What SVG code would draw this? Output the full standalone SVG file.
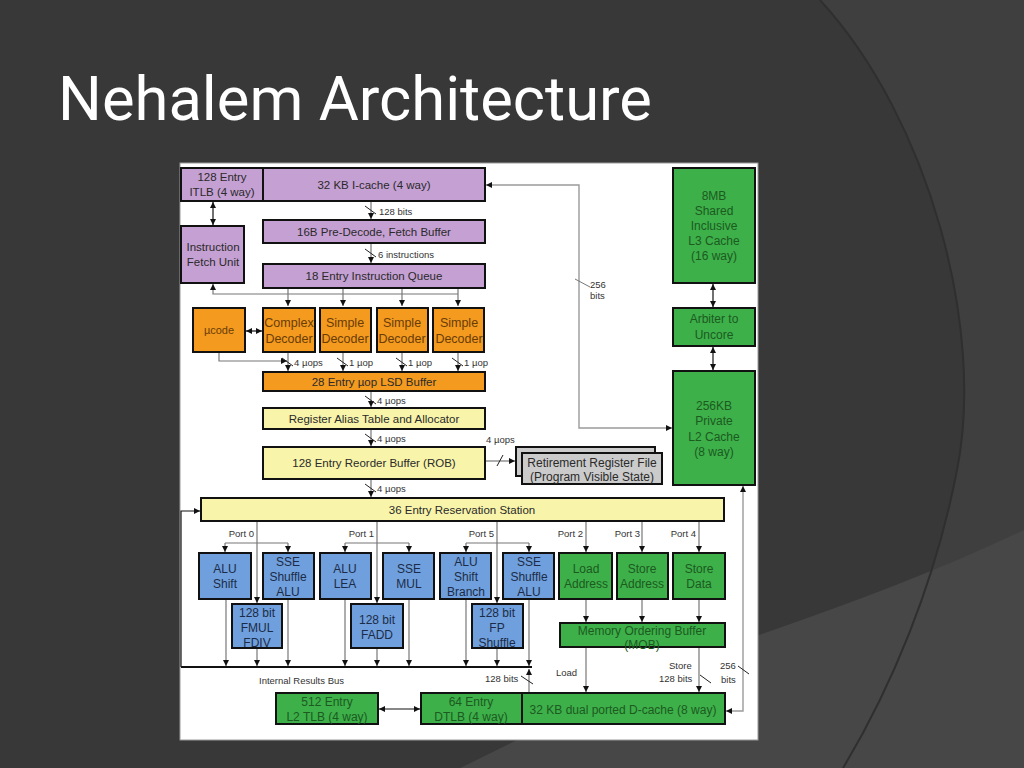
<svg xmlns="http://www.w3.org/2000/svg" width="1024" height="768" viewBox="0 0 1024 768">
<defs>
<marker id="a" markerWidth="6" markerHeight="6" refX="6" refY="3" orient="auto-start-reverse" markerUnits="userSpaceOnUse">
<path d="M0,0 L6,3 L0,6 Z" fill="#111"/>
</marker>
<style>
text{font-family:"Liberation Sans",Arial,sans-serif;text-anchor:middle}
.box{stroke:#111;stroke-width:2}
.pu{fill:#c5a0d3}
.or{fill:#f39a1f}
.ye{fill:#f8f4aa}
.bl{fill:#6f9fdc}
.gr{fill:#3db04a}
.gy{fill:#cbcbcb}
.t{font-size:11.5px;fill:#2a2a2a}
.tb{font-size:12px;fill:#1c2c48}
.tg{font-size:12px;fill:#1c5a20}
.to{font-size:12.5px;fill:#6a3c08}
.s{font-size:9.5px;fill:#333}
.sl{font-size:9.5px;fill:#333;text-anchor:start}
.se{font-size:9.5px;fill:#333;text-anchor:end}
.c{fill:none;stroke:#777;stroke-width:1.2}
.k{fill:none;stroke:#111;stroke-width:1.2}
.g{fill:none;stroke:#9a9a9a;stroke-width:1.4}
.m{marker-end:url(#a)}
.mm{marker-start:url(#a);marker-end:url(#a)}
</style>
</defs>
<rect width="1024" height="768" fill="#383838"/>
<path d="M820,0 C930,120 985,330 957,470 C935,585 890,690 843,768 L1024,768 L1024,0 Z" fill="#3f3f3f"/>
<path d="M1024,530 C930,575 820,615 700,655 C620,685 540,730 460,768 L1024,768 Z" fill="#474747"/>
<path d="M820,0 C930,120 985,330 957,470 C935,585 890,690 843,768" fill="none" stroke="#2f2f2f" stroke-width="2"/>
<text x="58" y="120" style="font-family:Roboto,'Liberation Sans',sans-serif;font-size:62px;fill:#ffffff;text-anchor:start" textLength="594" lengthAdjust="spacingAndGlyphs">Nehalem Architecture</text>
<rect x="180" y="163" width="578" height="577" fill="#ffffff" stroke="#999" stroke-width="1"/>

<g id="connectors">
<path class="g mm" d="M672,428 L579,428 L579,185 L486,185"/>
<line x1="575" y1="279" x2="590" y2="287" stroke="#777" stroke-width="1"/>
<path class="k mm" d="M213,202 L213,225"/>
<path class="c m" d="M371,201 L371,219"/>
<path class="c m" d="M371,243 L371,263"/>
<path class="c m" d="M458,294 L213,294 L213,284"/>
<path class="c m" d="M288,289 L288,306"/>
<path class="c m" d="M343,289 L343,306"/>
<path class="c m" d="M402,289 L402,306"/>
<path class="c m" d="M458,289 L458,306"/>
<path class="k mm" d="M246,331 L262,331"/>
<path class="c m" d="M219,352 L219,361 L287,361"/>
<path class="c m" d="M288,352 L288,371"/>
<path class="c m" d="M343,352 L343,371"/>
<path class="c m" d="M402,352 L402,371"/>
<path class="c m" d="M458,352 L458,371"/>
<path class="c m" d="M371,391 L371,407"/>
<path class="c m" d="M371,429 L371,446"/>
<path class="c m" d="M485,461 L515,461"/>
<path class="c m" d="M371,479 L371,497"/>
<path class="k m" d="M181,667 L181,511 L200,511"/>
<line x1="181" y1="667" x2="532" y2="667" stroke="#111" stroke-width="2"/>
<path class="c m" d="M257,521 L257,603"/>
<path class="c" d="M225,543 L288,543"/>
<path class="c m" d="M225,543 L225,552"/>
<path class="c m" d="M288,543 L288,552"/>
<path class="c m" d="M377,521 L377,603"/>
<path class="c" d="M345,543 L409,543"/>
<path class="c m" d="M345,543 L345,552"/>
<path class="c m" d="M409,543 L409,552"/>
<path class="c m" d="M497,521 L497,603"/>
<path class="c" d="M466,543 L529,543"/>
<path class="c m" d="M466,543 L466,552"/>
<path class="c m" d="M529,543 L529,552"/>
<path class="c m" d="M586,521 L586,552"/>
<path class="c m" d="M642,521 L642,552"/>
<path class="c m" d="M699,521 L699,552"/>
<path class="c m" d="M226,599 L226,666"/>
<path class="c m" d="M257,648 L257,666"/>
<path class="c m" d="M288,599 L288,666"/>
<path class="c m" d="M345,599 L345,666"/>
<path class="c m" d="M377,648 L377,666"/>
<path class="c m" d="M409,599 L409,666"/>
<path class="c m" d="M466,599 L466,666"/>
<path class="c m" d="M497,648 L497,666"/>
<path class="c m" d="M529,599 L529,666"/>
<path class="c m" d="M586,599 L586,622"/>
<path class="c m" d="M642,599 L642,622"/>
<path class="c m" d="M699,599 L699,622"/>
<path class="c m" d="M586,647 L586,692"/>
<path class="c m" d="M699,647 L699,692"/>
<path class="c m" d="M529,693 L529,669"/>
<path class="k mm" d="M379,709 L420,709"/>
<path class="g mm" d="M726,711 L743,711 L743,486"/>
<path class="k mm" d="M713,284 L713,307"/>
<path class="k mm" d="M713,347 L713,370"/>
<g stroke="#222" stroke-width="1">
<line x1="365" y1="206" x2="376" y2="214"/>
<line x1="365" y1="249" x2="376" y2="257"/>
<line x1="282" y1="358" x2="293" y2="366"/>
<line x1="337" y1="358" x2="348" y2="366"/>
<line x1="396" y1="358" x2="407" y2="366"/>
<line x1="452" y1="358" x2="463" y2="366"/>
<line x1="365" y1="396" x2="376" y2="404"/>
<line x1="365" y1="434" x2="376" y2="442"/>
<line x1="365" y1="484" x2="376" y2="492"/>
<line x1="497" y1="466" x2="503" y2="455"/>
<line x1="521" y1="676" x2="533" y2="684"/>
<line x1="700" y1="675" x2="711" y2="683"/>
<line x1="738" y1="666" x2="749" y2="674"/>
</g>
<text class="sl" x="379" y="215">128 bits</text>
<text class="sl" x="378" y="258">6 instructions</text>
<text class="sl" x="590" y="288">256</text>
<text class="sl" x="590" y="299">bits</text>
<text class="sl" x="294" y="366">4 µops</text>
<text class="sl" x="349" y="366">1 µop</text>
<text class="sl" x="408" y="366">1 µop</text>
<text class="sl" x="464" y="366">1 µop</text>
<text class="sl" x="377" y="404">4 µops</text>
<text class="sl" x="377" y="442">4 µops</text>
<text class="sl" x="486" y="443">4 µops</text>
<text class="sl" x="377" y="492">4 µops</text>
<text class="se" x="254" y="537">Port 0</text>
<text class="se" x="374" y="537">Port 1</text>
<text class="se" x="494" y="537">Port 5</text>
<text class="se" x="583" y="537">Port 2</text>
<text class="se" x="640" y="537">Port 3</text>
<text class="se" x="696" y="537">Port 4</text>
<text class="sl" x="259" y="684">Internal Results Bus</text>
<text class="sl" x="485" y="682">128 bits</text>
<text class="sl" x="556" y="676">Load</text>
<text class="sl" x="669" y="669">Store</text>
<text class="sl" x="659" y="682">128 bits</text>
<text class="sl" x="720" y="669">256</text>
<text class="sl" x="721" y="683">bits</text>
</g>

<g id="itlb"><rect class="box pu" x="181" y="168" width="82" height="33"/><text class="t" x="222" y="181">128 Entry</text><text class="t" x="222" y="196">ITLB (4 way)</text></g>
<g id="icache"><rect class="box pu" x="263" y="168" width="222" height="33"/><text class="t" x="374" y="189">32 KB I-cache (4 way)</text></g>
<g id="predecode"><rect class="box pu" x="263" y="220" width="222" height="23"/><text class="t" x="374" y="236">16B Pre-Decode, Fetch Buffer</text></g>
<g id="iqueue"><rect class="box pu" x="263" y="264" width="222" height="24"/><text class="t" x="374" y="280">18 Entry Instruction Queue</text></g>
<g id="ifu"><rect class="box pu" x="181" y="226" width="63" height="57"/><text class="t" x="213" y="251">Instruction</text><text class="t" x="213" y="266">Fetch Unit</text></g>
<g id="ucode"><rect class="box or" x="193" y="308" width="52" height="44"/><text class="to" x="219" y="334" style="font-size:11px">µcode</text></g>
<g id="complexdec"><rect class="box or" x="263" y="308" width="52" height="44"/><text class="to" x="289" y="327">Complex</text><text class="to" x="289" y="343">Decoder</text></g>
<g id="simpledec1"><rect class="box or" x="320" y="308" width="51" height="44"/><text class="to" x="345" y="327">Simple</text><text class="to" x="345" y="343">Decoder</text></g>
<g id="simpledec2"><rect class="box or" x="377" y="308" width="51" height="44"/><text class="to" x="402" y="327">Simple</text><text class="to" x="402" y="343">Decoder</text></g>
<g id="simpledec3"><rect class="box or" x="433" y="308" width="51" height="44"/><text class="to" x="459" y="327">Simple</text><text class="to" x="459" y="343">Decoder</text></g>
<g id="lsd"><rect class="box or" x="263" y="372" width="222" height="19"/><text class="t" x="374" y="386">28 Entry µop LSD Buffer</text></g>
<g id="rat"><rect class="box ye" x="263" y="408" width="222" height="21"/><text class="t" x="374" y="423">Register Alias Table and Allocator</text></g>
<g id="rob"><rect class="box ye" x="263" y="447" width="222" height="32"/><text class="t" x="374" y="467">128 Entry Reorder Buffer (ROB)</text></g>
<g id="rrf"><rect class="box gy" x="516" y="447" width="139" height="29"/><rect class="box gy" x="522" y="453" width="140" height="31"/><text class="t" x="592" y="467" style="font-size:12px">Retirement Register File</text><text class="t" x="592" y="481" style="font-size:12px">(Program Visible State)</text></g>
<g id="rs"><rect class="box ye" x="201" y="498" width="523" height="23"/><text class="t" x="462" y="514">36 Entry Reservation Station</text></g>
<g id="alushift"><rect class="box bl" x="199" y="553" width="52" height="46"/><text class="tb" x="225" y="573">ALU</text><text class="tb" x="225" y="588">Shift</text></g>
<g id="sseshuf1"><rect class="box bl" x="263" y="553" width="51" height="46"/><text class="tb" x="288" y="566">SSE</text><text class="tb" x="288" y="581">Shuffle</text><text class="tb" x="288" y="596">ALU</text></g>
<g id="fmul"><rect class="box bl" x="232" y="604" width="50" height="44"/><text class="tb" x="257" y="617">128 bit</text><text class="tb" x="257" y="632">FMUL</text><text class="tb" x="257" y="647">FDIV</text></g>
<g id="alulea"><rect class="box bl" x="320" y="553" width="51" height="46"/><text class="tb" x="345" y="573">ALU</text><text class="tb" x="345" y="588">LEA</text></g>
<g id="ssemul"><rect class="box bl" x="383" y="553" width="51" height="46"/><text class="tb" x="409" y="573">SSE</text><text class="tb" x="409" y="588">MUL</text></g>
<g id="fadd"><rect class="box bl" x="351" y="604" width="52" height="44"/><text class="tb" x="377" y="624">128 bit</text><text class="tb" x="377" y="639">FADD</text></g>
<g id="alubranch"><rect class="box bl" x="440" y="553" width="51" height="46"/><text class="tb" x="466" y="566">ALU</text><text class="tb" x="466" y="581">Shift</text><text class="tb" x="466" y="596">Branch</text></g>
<g id="sseshuf2"><rect class="box bl" x="503" y="553" width="51" height="46"/><text class="tb" x="529" y="566">SSE</text><text class="tb" x="529" y="581">Shuffle</text><text class="tb" x="529" y="596">ALU</text></g>
<g id="fpshuf"><rect class="box bl" x="472" y="604" width="51" height="44"/><text class="tb" x="497" y="617">128 bit</text><text class="tb" x="497" y="632">FP</text><text class="tb" x="497" y="647">Shuffle</text></g>
<g id="loadaddr"><rect class="box gr" x="559" y="553" width="53" height="46"/><text class="tg" x="586" y="573">Load</text><text class="tg" x="586" y="588">Address</text></g>
<g id="storeaddr"><rect class="box gr" x="617" y="553" width="51" height="46"/><text class="tg" x="642" y="573">Store</text><text class="tg" x="642" y="588">Address</text></g>
<g id="storedata"><rect class="box gr" x="673" y="553" width="52" height="46"/><text class="tg" x="699" y="573">Store</text><text class="tg" x="699" y="588">Data</text></g>
<g id="mob"><rect class="box gr" x="560" y="623" width="165" height="24"/><text class="tg" x="642" y="635">Memory Ordering Buffer</text><text class="tg" x="642" y="649">(MOB)</text></g>
<g id="l2tlb"><rect class="box gr" x="276" y="693" width="102" height="31"/><text class="tg" x="327" y="706">512 Entry</text><text class="tg" x="327" y="721">L2 TLB (4 way)</text></g>
<g id="dtlb"><rect class="box gr" x="421" y="693" width="101" height="31"/><text class="tg" x="471" y="706">64 Entry</text><text class="tg" x="471" y="721">DTLB (4 way)</text></g>
<g id="dcache"><rect class="box gr" x="522" y="693" width="203" height="31"/><text class="tg" x="623" y="714">32 KB dual ported D-cache (8 way)</text></g>
<g id="l3"><rect class="box gr" x="673" y="168" width="82" height="115"/><text class="tg" x="714" y="200">8MB</text><text class="tg" x="714" y="215">Shared</text><text class="tg" x="714" y="230">Inclusive</text><text class="tg" x="714" y="245">L3 Cache</text><text class="tg" x="714" y="260">(16 way)</text></g>
<g id="arbiter"><rect class="box gr" x="673" y="308" width="82" height="38"/><text class="tg" x="714" y="323">Arbiter to</text><text class="tg" x="714" y="339">Uncore</text></g>
<g id="l2"><rect class="box gr" x="673" y="371" width="82" height="114"/><text class="tg" x="714" y="410">256KB</text><text class="tg" x="714" y="425">Private</text><text class="tg" x="714" y="441">L2 Cache</text><text class="tg" x="714" y="456">(8 way)</text></g>
</svg>
